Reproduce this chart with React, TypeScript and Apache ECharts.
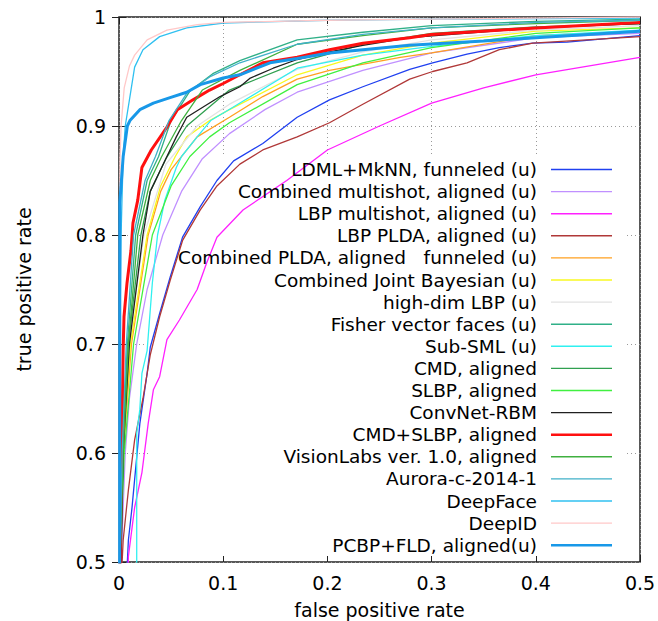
import React, { useEffect, useRef } from "react";
import * as echarts from "echarts";

const seriesNames = [
  "LDML+MkNN, funneled (u)",
  "Combined multishot, aligned (u)",
  "LBP multishot, aligned (u)",
  "LBP PLDA, aligned (u)",
  "Combined PLDA, aligned   funneled (u)",
  "Combined Joint Bayesian (u)",
  "high-dim LBP (u)",
  "Fisher vector faces (u)",
  "Sub-SML (u)",
  "CMD, aligned",
  "SLBP, aligned",
  "ConvNet-RBM",
  "CMD+SLBP, aligned",
  "VisionLabs ver. 1.0, aligned",
  "Aurora-c-2014-1",
  "DeepFace",
  "DeepID",
  "PCBP+FLD, aligned(u)",
];

const seriesColors = [
  "#2040f0", "#c090ff", "#ff20ff", "#b03838", "#ffa020", "#f8f820",
  "#e2e2e2", "#30b088", "#30f0f0", "#30a050", "#40f040", "#202020",
  "#ff1010", "#40b040", "#40b0c8", "#30c0f0", "#ffc8c8", "#1898e8",
];

const seriesWidths = [1.3, 1.3, 1.3, 1.3, 1.3, 1.3, 1.3, 1.3, 1.3, 1.3, 1.3, 1.3, 3, 1.3, 1.3, 1.3, 1.3, 3];

const ldml = [[0.007,0.45],[0.008,0.5],[0.009,0.52],[0.0125,0.55],[0.02,0.627],[0.027,0.673],[0.03,0.697],[0.039,0.728],[0.049,0.761],[0.061,0.798],[0.078,0.826],[0.094,0.85],[0.11,0.868],[0.138,0.884],[0.171,0.908],[0.202,0.924],[0.234,0.936],[0.279,0.952],[0.301,0.958],[0.334,0.966],[0.365,0.972],[0.397,0.976],[0.43,0.977],[0.5,0.983]];
const combinedMultishot = [[0.001,0.45],[0.002,0.5],[0.006,0.6],[0.01,0.65],[0.017,0.7],[0.027,0.75],[0.042,0.8],[0.06,0.84],[0.08,0.87],[0.106,0.893],[0.14,0.915],[0.171,0.931],[0.234,0.951],[0.3,0.967],[0.4,0.981],[0.5,0.985]];
const lbpMultishot = [[0.008,0.45],[0.009,0.505],[0.015,0.55],[0.022,0.582],[0.028,0.627],[0.033,0.658],[0.039,0.67],[0.046,0.704],[0.058,0.722],[0.075,0.75],[0.084,0.774],[0.094,0.798],[0.119,0.823],[0.161,0.85],[0.2,0.878],[0.25,0.9],[0.3,0.921],[0.35,0.935],[0.4,0.947],[0.45,0.955],[0.5,0.963]];
const lbpPlda = [[0.002,0.45],[0.003,0.5],[0.004,0.52],[0.009,0.566],[0.015,0.612],[0.023,0.65],[0.03,0.69],[0.039,0.725],[0.049,0.758],[0.061,0.795],[0.078,0.823],[0.094,0.845],[0.116,0.865],[0.138,0.878],[0.171,0.89],[0.202,0.903],[0.234,0.92],[0.279,0.943],[0.301,0.95],[0.334,0.958],[0.365,0.97],[0.397,0.976],[0.5,0.982]];
const combinedPlda = [[0.0005,0.45],[0.001,0.5],[0.004,0.6],[0.012,0.7],[0.028,0.8],[0.04,0.84],[0.05,0.86],[0.075,0.89],[0.106,0.908],[0.138,0.927],[0.171,0.943],[0.202,0.951],[0.27,0.963],[0.3,0.967],[0.4,0.983],[0.5,0.987]];
const combinedJointBayesian = [[0.0005,0.45],[0.001,0.5],[0.004,0.6],[0.011,0.7],[0.027,0.8],[0.04,0.845],[0.054,0.872],[0.065,0.89],[0.087,0.905],[0.106,0.915],[0.171,0.947],[0.234,0.965],[0.3,0.976],[0.4,0.987],[0.5,0.99]];
const highDimLbp = [[0.0005,0.45],[0.001,0.5],[0.003,0.6],[0.009,0.7],[0.024,0.8],[0.045,0.865],[0.075,0.9],[0.106,0.92],[0.171,0.952],[0.234,0.968],[0.3,0.979],[0.4,0.988],[0.5,0.992]];
const fisherVectorFaces = [[0.0005,0.45],[0.001,0.5],[0.003,0.6],[0.008,0.7],[0.016,0.8],[0.027,0.85],[0.038,0.872],[0.05,0.905],[0.068,0.932],[0.09,0.948],[0.116,0.96],[0.171,0.979],[0.234,0.986],[0.3,0.992],[0.4,0.996],[0.5,0.998]];
const subSml = [[0.017,0.45],[0.017,0.618],[0.02,0.64],[0.022,0.673],[0.027,0.694],[0.032,0.756],[0.037,0.8],[0.044,0.832],[0.055,0.862],[0.06,0.872],[0.075,0.89],[0.088,0.905],[0.109,0.917],[0.171,0.953],[0.234,0.965],[0.3,0.973],[0.4,0.983],[0.5,0.988]];
const cmdAligned = [[0.0005,0.45],[0.001,0.5],[0.003,0.6],[0.009,0.7],[0.021,0.8],[0.03,0.84],[0.045,0.87],[0.065,0.9],[0.106,0.933],[0.171,0.958],[0.234,0.975],[0.3,0.985],[0.4,0.991],[0.5,0.994]];
const slbpAligned = [[0.0005,0.45],[0.001,0.5],[0.005,0.6],[0.014,0.7],[0.032,0.8],[0.05,0.845],[0.068,0.872],[0.087,0.89],[0.106,0.903],[0.171,0.938],[0.234,0.958],[0.3,0.972],[0.4,0.985],[0.5,0.99]];
const convNetRbm = [[0.001,0.45],[0.002,0.5],[0.004,0.6],[0.01,0.7],[0.023,0.8],[0.03,0.84],[0.046,0.872],[0.055,0.89],[0.065,0.908],[0.08,0.917],[0.097,0.927],[0.116,0.936],[0.126,0.944],[0.148,0.953],[0.171,0.961],[0.202,0.968],[0.234,0.974],[0.279,0.981],[0.4,0.99],[0.5,0.994]];
const cmdSlbp = [[0.0005,0.45],[0.001,0.5],[0.003,0.627],[0.004,0.695],[0.0048,0.725],[0.0077,0.756],[0.0115,0.786],[0.0134,0.811],[0.018,0.832],[0.022,0.862],[0.031,0.878],[0.046,0.899],[0.056,0.915],[0.071,0.924],[0.087,0.933],[0.1,0.939],[0.116,0.947],[0.138,0.958],[0.171,0.963],[0.202,0.97],[0.234,0.976],[0.279,0.981],[0.3,0.984],[0.4,0.99],[0.5,0.995]];
const visionLabs = [[0.0005,0.45],[0.001,0.5],[0.004,0.6],[0.009,0.7],[0.018,0.8],[0.03,0.85],[0.041,0.872],[0.06,0.905],[0.08,0.933],[0.116,0.951],[0.171,0.975],[0.234,0.983],[0.3,0.99],[0.4,0.994],[0.5,0.997]];
const aurora = [[0.0005,0.45],[0.001,0.5],[0.003,0.6],[0.007,0.7],[0.014,0.8],[0.025,0.85],[0.035,0.872],[0.048,0.905],[0.065,0.93],[0.087,0.945],[0.116,0.958],[0.171,0.975],[0.234,0.984],[0.3,0.99],[0.4,0.995],[0.5,0.997]];
const deepFace = [[0,0.45],[0.0005,0.6],[0.001,0.72],[0.002,0.8],[0.004,0.872],[0.006,0.9],[0.011,0.93],[0.015,0.954],[0.023,0.97],[0.039,0.982],[0.065,0.99],[0.1,0.9945],[0.2,0.997],[0.3,0.998],[0.5,0.999]];
const deepId = [[0,0.45],[0.0005,0.8],[0.001,0.87],[0.002,0.9],[0.005,0.935],[0.01,0.955],[0.015,0.965],[0.027,0.979],[0.046,0.988],[0.075,0.993],[0.1,0.995],[0.2,0.997],[0.3,0.998],[0.5,1.0]];
const pcbpFld = [[0.0005,0.3],[0.0008,0.83],[0.004,0.872],[0.008,0.9],[0.0105,0.905],[0.02,0.915],[0.033,0.921],[0.049,0.926],[0.065,0.931],[0.078,0.938],[0.1,0.944],[0.116,0.947],[0.145,0.958],[0.171,0.962],[0.202,0.967],[0.234,0.97],[0.279,0.974],[0.35,0.978],[0.4,0.981],[0.5,0.987]];

const curves = [
  ldml, combinedMultishot, lbpMultishot, lbpPlda, combinedPlda, combinedJointBayesian,
  highDimLbp, fisherVectorFaces, subSml, cmdAligned, slbpAligned, convNetRbm,
  cmdSlbp, visionLabs, aurora, deepFace, deepId, pcbpFld,
];

const FONT = "DejaVu Sans";

export default function App() {
  const ref = useRef<HTMLDivElement>(null);
  useEffect(() => {
    document.body.style.margin = "0";
    const chart = echarts.init(ref.current!, null, { renderer: "svg" });
    const axisCommon = {
      type: "value" as const,
      axisLine: { show: false },
      axisTick: { show: true, inside: true, length: 7, lineStyle: { color: "#222", width: 1 } },
    };
    const legendData = seriesNames.map((n, i) => {
      const h = seriesWidths[i] > 2 ? 2.6 : 1.4;
      return {
        name: n,
        icon: `path://M0,0L61,0L61,${h}L0,${h}Z`,
        itemStyle: { color: seriesColors[i] },
      };
    });
    chart.setOption({
      animation: false,
      backgroundColor: "#ffffff",
      grid: {
        left: 119, right: 18, top: 17, bottom: 59,
        outerBoundsMode: "none",
        containLabel: false,
        show: true, borderColor: "#222", borderWidth: 1.5, backgroundColor: "transparent",
      },
      xAxis: [
        {
          ...axisCommon,
          min: 0, max: 0.5, interval: 0.1, position: "bottom",
          axisLabel: { color: "#000", fontFamily: FONT, fontSize: 19, margin: 11 },
          splitLine: { show: true, lineStyle: { color: "#999", type: [1, 3], width: 1 } },
          name: "false positive rate", nameLocation: "middle", nameGap: 38,
          nameTextStyle: { color: "#000", fontFamily: FONT, fontSize: 19 },
        },
        {
          ...axisCommon,
          min: 0, max: 0.5, interval: 0.1, position: "top",
          axisLabel: { show: false }, splitLine: { show: false },
        },
      ],
      yAxis: [
        {
          ...axisCommon,
          min: 0.5, max: 1, interval: 0.1, position: "left",
          axisLabel: { color: "#000", fontFamily: FONT, fontSize: 19, margin: 13 },
          splitLine: { show: true, lineStyle: { color: "#999", type: [1, 3], width: 1 } },
          name: "true positive rate", nameLocation: "middle", nameGap: 86, nameRotate: 90,
          nameTextStyle: { color: "#000", fontFamily: FONT, fontSize: 19 },
        },
        {
          ...axisCommon,
          min: 0.5, max: 1, interval: 0.1, position: "right",
          axisLabel: { show: false }, splitLine: { show: false },
        },
      ],
      graphic: [
        {
          type: "rect", z: 1, silent: true,
          shape: { x: 148, y: 157, width: 479, height: 399 },
          style: { fill: "#ffffff" },
        },
      ],
      legend: {
        orient: "vertical",
        align: "right",
        right: 46,
        top: 160,
        padding: 0,
        itemWidth: 61,
        itemHeight: 20,
        itemGap: 3.1,
        symbolKeepAspect: true,
        selectedMode: false,
        textStyle: { color: "#000", fontFamily: FONT, fontSize: 18.5, padding: [0, 9, 0, 0] },
        data: legendData,
      },
      series: curves.map((d, i) => ({
        name: seriesNames[i],
        type: "line",
        data: d,
        symbol: "none",
        showSymbol: false,
        silent: true,
        clip: true,
        z: 2,
        lineStyle: { color: seriesColors[i], width: seriesWidths[i] },
        itemStyle: { color: seriesColors[i] },
      })),
    });
    return () => chart.dispose();
  }, []);
  return <div ref={ref} style={{ width: 658, height: 621 }} />;
}
